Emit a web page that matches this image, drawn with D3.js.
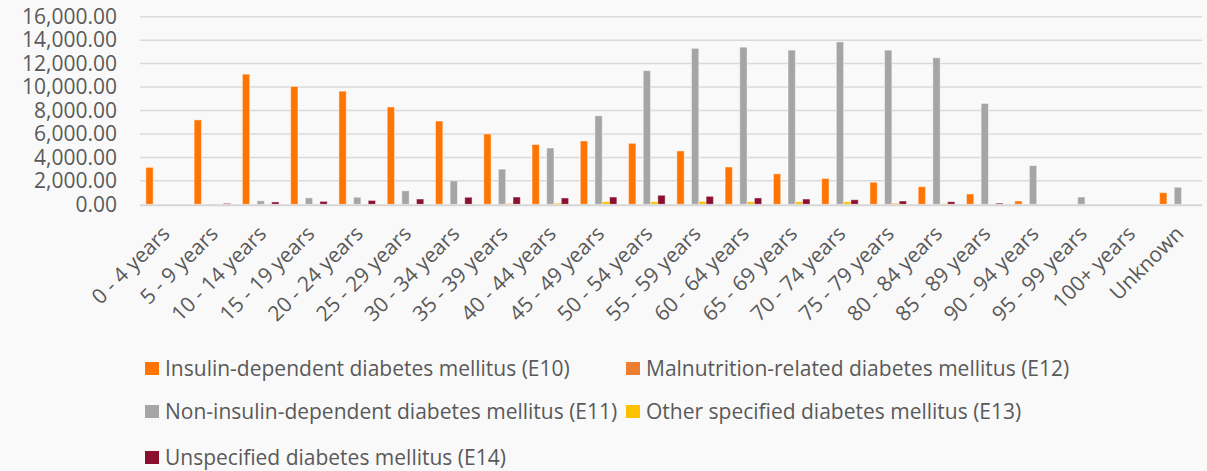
<!DOCTYPE html>
<html>
<head>
<meta charset="utf-8">
<script src="https://cdn.jsdelivr.net/npm/d3@7"></script>
<style>
  html, body { margin: 0; padding: 0; background: #f9f9f9; }
  svg { display: block; font-family: "Open Sans", sans-serif; }
</style>
</head>
<body>
<div id="chart"></div>
<script>
var categories = ['0 - 4 years', '5 - 9 years', '10 - 14 years', '15 - 19 years', '20 - 24 years',
  '25 - 29 years', '30 - 34 years', '35 - 39 years', '40 - 44 years', '45 - 49 years',
  '50 - 54 years', '55 - 59 years', '60 - 64 years', '65 - 69 years', '70 - 74 years',
  '75 - 79 years', '80 - 84 years', '85 - 89 years', '90 - 94 years', '95 - 99 years',
  '100+ years', 'Unknown'];

var seriesNames = [
  'Insulin-dependent diabetes mellitus (E10)',
  'Malnutrition-related diabetes mellitus (E12)',
  'Non-insulin-dependent diabetes mellitus (E11)',
  'Other specified diabetes mellitus (E13)',
  'Unspecified diabetes mellitus (E14)'
];
var seriesColors = ['#ff7504', '#ed7d31', '#a5a5a5', '#ffc000', '#8b1030'];

var e10 = [3150, 7200, 11100, 10050, 9650, 8300, 7100, 6000, 5100, 5400, 5200, 4550, 3180, 2600, 2200, 1880, 1500, 880, 280, 0, 0, 990];
var e12 = [0, 0, 0, 0, 0, 0, 0, 0, 0, 0, 0, 0, 0, 0, 0, 0, 0, 0, 0, 0, 0, 0];
var e11 = [0, 30, 300, 550, 600, 1150, 2000, 3000, 4800, 7550, 11400, 13300, 13400, 13150, 13850, 13150, 12500, 8600, 3300, 620, 0, 1450];
var e13 = [0, 0, 0, 0, 0, 0, 0, 80, 100, 220, 220, 250, 220, 220, 220, 100, 50, 0, 0, 0, 0, 0];
var e14 = [0, 80, 200, 250, 330, 450, 600, 620, 540, 620, 770, 680, 540, 450, 390, 280, 220, 100, 0, 0, 0, 0];

var yTicks = [0, 2000, 4000, 6000, 8000, 10000, 12000, 14000, 16000];

var seriesValues = [e10, e12, e11, e13, e14];

var width = 1207, height = 471;
var svg = d3.select('#chart').append('svg')
  .attr('width', width)
  .attr('height', height);

svg.append('rect').attr('width', width).attr('height', height).attr('fill', '#f9f9f9');

var x0 = d3.scaleBand().domain(categories).range([140, 1202]).padding(0);
var x1 = d3.scaleBand().domain(d3.range(seriesNames.length))
  .range([0, x0.bandwidth()]).paddingInner(0).paddingOuter(0.8);
var y = d3.scaleLinear().domain([0, 16000]).range([204.3, 16.7]);

// gridlines
svg.append('g')
  .selectAll('line')
  .data(yTicks.slice(1))
  .join('line')
  .attr('x1', 140).attr('x2', 1202)
  .attr('y1', function(d){ return y(d); })
  .attr('y2', function(d){ return y(d); })
  .attr('stroke', '#dadada')
  .attr('stroke-width', 1.5);

// y axis labels
var yAxis = d3.axisLeft(y).tickValues(yTicks).tickSize(0).tickPadding(0)
  .tickFormat(d3.format(',.2f'));
var yg = svg.append('g').attr('transform', 'translate(117,0)').call(yAxis);
yg.select('.domain').remove();
yg.selectAll('text')
  .attr('font-family', '"Open Sans", sans-serif')
  .attr('font-size', 21)
  .attr('fill', '#595959');

// bars
var groups = svg.append('g')
  .selectAll('g')
  .data(categories)
  .join('g')
  .attr('transform', function(d){ return 'translate(' + x0(d) + ',0)'; });

groups.selectAll('rect')
  .data(function(d, i){
    return seriesValues.map(function(vals, s){ return {s: s, v: vals[i]}; });
  })
  .join('rect')
  .filter(function(d){ return d.v > 0; })
  .attr('x', function(d){ return x1(d.s); })
  .attr('width', x1.bandwidth())
  .attr('y', function(d){ return y(d.v); })
  .attr('height', function(d){ return y(0) - y(d.v); })
  .attr('fill', function(d){ return seriesColors[d.s]; })
  .attr('stroke', 'rgba(255,255,255,0.45)')
  .attr('stroke-width', 1);

// baseline
svg.append('line')
  .attr('x1', 140).attr('x2', 1202)
  .attr('y1', y(0) + 1).attr('y2', y(0) + 1)
  .attr('stroke', '#d6d6d6')
  .attr('stroke-width', 2);

// x labels
svg.append('g')
  .selectAll('text')
  .data(categories)
  .join('text')
  .attr('transform', function(d){
    return 'translate(' + (x0(d) + x0.bandwidth() / 2 + 7) + ',235) rotate(-45)';
  })
  .attr('text-anchor', 'end')
  .attr('font-size', 21)
  .attr('fill', '#595959')
  .text(function(d){ return d; });

// legend
var legendPos = [[145, 369], [626, 369], [145, 412], [626, 412], [145, 458]];
var legend = svg.append('g')
  .selectAll('g')
  .data(seriesNames)
  .join('g')
  .attr('transform', function(d, i){ return 'translate(' + legendPos[i][0] + ',' + legendPos[i][1] + ')'; });

legend.append('rect')
  .attr('x', 0).attr('y', -7)
  .attr('width', 14).attr('height', 13)
  .attr('fill', function(d, i){ return seriesColors[i]; });

legend.append('text')
  .attr('x', 20)
  .attr('dy', '0.35em')
  .attr('font-size', 21)
  .attr('fill', '#595959')
  .text(function(d){ return d; });
</script>
</body>
</html>
